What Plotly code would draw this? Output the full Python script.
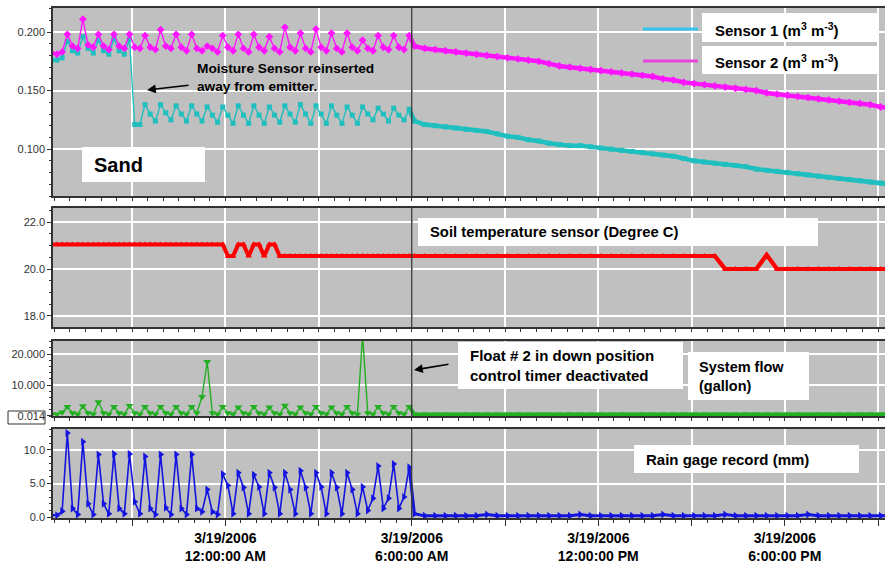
import plotly.graph_objects as go
import pandas as pd

# ---------------- data ----------------
# readings every 10 min before 6:00 AM, every 20 min after
t_pre = pd.date_range("2006-03-18 18:25", "2006-03-19 05:55", freq="10min")
t_post = pd.date_range("2006-03-19 06:05", "2006-03-19 21:25", freq="20min")

sensor1_pre = [0.176, 0.176, 0.178,
               0.192, 0.184, 0.182, 0.196, 0.186, 0.182, 0.193, 0.184, 0.181,
               0.194, 0.184, 0.181, 0.194, 0.121, 0.121, 0.138, 0.130, 0.124,
               0.138, 0.131, 0.125, 0.137, 0.130, 0.124, 0.137, 0.130, 0.124,
               0.136, 0.129, 0.123, 0.136, 0.129, 0.122, 0.137, 0.129, 0.122,
               0.137, 0.129, 0.122, 0.136, 0.129, 0.123, 0.137, 0.130, 0.123,
               0.138, 0.130, 0.122, 0.137, 0.130, 0.122, 0.137, 0.129, 0.122,
               0.136, 0.129, 0.122, 0.136, 0.130, 0.125, 0.135, 0.130, 0.124,
               0.135, 0.129, 0.125, 0.134]
sensor1_post = [0.124, 0.121, 0.120, 0.119, 0.118, 0.117, 0.116, 0.115, 0.113, 0.111,
                0.110, 0.108, 0.107, 0.105, 0.104, 0.103, 0.103, 0.102, 0.101, 0.100,
                0.099, 0.098, 0.097, 0.096, 0.095, 0.094, 0.092, 0.090, 0.089, 0.088,
                0.087, 0.086, 0.085, 0.083, 0.082, 0.081, 0.080, 0.079, 0.078, 0.077,
                0.076, 0.075, 0.074, 0.073, 0.072, 0.071, 0.070]

sensor2_pre = [0.182, 0.181, 0.183,
               0.198, 0.188, 0.186, 0.211, 0.189, 0.187, 0.198, 0.188, 0.185,
               0.198, 0.188, 0.186, 0.198, 0.187, 0.186, 0.197, 0.187, 0.185,
               0.202, 0.188, 0.186, 0.198, 0.187, 0.184, 0.198, 0.186, 0.184,
               0.188, 0.186, 0.183, 0.197, 0.187, 0.184, 0.198, 0.186, 0.183,
               0.198, 0.187, 0.184, 0.196, 0.186, 0.183, 0.204, 0.187, 0.184,
               0.199, 0.186, 0.183, 0.2025, 0.187, 0.184, 0.199, 0.186, 0.183,
               0.199, 0.187, 0.184, 0.193, 0.186, 0.184, 0.197, 0.187, 0.185,
               0.197, 0.187, 0.185, 0.197]
sensor2_post = [0.188, 0.186, 0.185, 0.184, 0.183, 0.182, 0.181, 0.180, 0.179, 0.178,
                0.177, 0.176, 0.175, 0.173, 0.171, 0.170, 0.169, 0.168, 0.167, 0.166,
                0.165, 0.164, 0.163, 0.162, 0.160, 0.159, 0.157, 0.156, 0.155, 0.154,
                0.153, 0.152, 0.151, 0.150, 0.148, 0.147, 0.146, 0.145, 0.144, 0.143,
                0.142, 0.141, 0.140, 0.139, 0.138, 0.136, 0.135]

temp_pre = [21.05, 21.05, 21.05, 21.05, 21.05, 21.05, 21.05, 21.05, 21.05, 21.05,
            21.05, 21.05, 21.05, 21.05, 21.05, 21.05, 21.05, 21.05, 21.05, 21.05,
            21.05, 21.05, 21.05, 21.05, 21.05, 21.05, 21.05, 21.05, 21.05, 21.05,
            21.05, 21.05, 21.05, 21.05,
            20.55, 20.55, 21.05, 21.05, 20.55, 21.05, 21.05, 20.55, 21.05, 21.05,
            20.55,
            20.55, 20.55, 20.55, 20.55, 20.55, 20.55, 20.55, 20.55, 20.55, 20.55,
            20.55, 20.55, 20.55, 20.55, 20.55, 20.55, 20.55, 20.55, 20.55, 20.55,
            20.55, 20.55, 20.55, 20.55, 20.55]
temp_post = [20.55, 20.55, 20.55, 20.55, 20.55, 20.55, 20.55, 20.55, 20.55, 20.55,
             20.55, 20.55, 20.55, 20.55, 20.55, 20.55, 20.55, 20.55, 20.55, 20.55,
             20.55, 20.55, 20.55, 20.55, 20.55, 20.55, 20.55, 20.55, 20.55, 20.55,
             20.0, 20.0, 20.0, 20.0, 20.6, 20.0, 20.0, 20.0, 20.0, 20.0,
             20.0, 20.0, 20.0, 20.0, 20.0, 20.0, 20.0]

flow_pre = [0.6, 0.6, 1.2,
            3.0, 1.0, 0.6, 3.2, 1.0, 0.6, 4.5, 1.0, 0.6, 3.0, 1.0, 0.6,
            3.3, 1.0, 0.6, 3.0, 1.0, 0.6, 3.0, 1.0, 0.6, 3.0, 1.0, 0.6,
            3.0, 1.0, 6.2, 17.5, 1.0, 0.6, 3.0, 1.0, 0.6, 2.8, 1.0, 0.6,
            3.0, 1.0, 0.6, 2.8, 1.0, 0.6, 3.4, 1.0, 0.6, 2.8, 1.0, 0.6,
            3.0, 1.0, 0.6, 2.8, 1.0, 0.6, 3.0, 1.0, 0.6, 26.0, 1.0, 0.6,
            3.0, 1.0, 0.6, 3.0, 1.0, 0.6, 3.0]
flow_post = [0.6, 0.6, 0.6, 0.6, 0.6, 0.6, 0.6, 0.6, 0.6, 0.6,
             0.6, 0.6, 0.6, 0.6, 0.6, 0.6, 0.6, 0.6, 0.6, 0.6,
             0.6, 0.6, 0.6, 0.6, 0.6, 0.6, 0.6, 0.6, 0.6, 0.6,
             0.6, 0.6, 0.6, 0.6, 0.6, 0.6, 0.6, 0.6, 0.6, 0.6,
             0.6, 0.6, 0.6, 0.6, 0.6, 0.6, 0.6]

rain_pre = [0.3, 0.3, 0.9,
            12.5, 1.3, 0.4, 11.2, 2.0, 0.4, 9.3, 2.0, 0.5, 9.4, 1.3, 0.5,
            9.4, 2.3, 0.5, 9.0, 1.3, 0.4, 9.3, 1.4, 0.4, 9.3, 1.3, 0.4,
            9.3, 1.3, 0.8, 4.1, 0.8, 0.4, 6.4, 4.7, 0.5, 6.6, 4.4, 0.5,
            6.3, 4.5, 0.5, 6.6, 4.4, 0.5, 6.6, 4.1, 0.5, 6.9, 4.4, 0.5,
            6.6, 4.5, 0.5, 6.6, 4.4, 0.5, 6.6, 4.1, 0.5, 4.5, 1.0, 2.8,
            7.6, 1.3, 2.8, 7.9, 1.3, 3.0, 7.4]
rain_post = [0.5, 0.2, 0.2, 0.2, 0.2, 0.2, 0.2, 0.4, 0.2, 0.2,
             0.2, 0.2, 0.2, 0.2, 0.2, 0.2, 0.4, 0.2, 0.2, 0.2,
             0.2, 0.2, 0.2, 0.2, 0.4, 0.2, 0.2, 0.2, 0.2, 0.2,
             0.4, 0.2, 0.2, 0.2, 0.2, 0.2, 0.2, 0.2, 0.4, 0.2,
             0.2, 0.2, 0.2, 0.2, 0.2, 0.2, 0.2]

x_major = ["2006-03-18 21:00", "2006-03-19 00:00", "2006-03-19 03:00",
           "2006-03-19 06:00", "2006-03-19 09:00", "2006-03-19 12:00",
           "2006-03-19 15:00", "2006-03-19 18:00", "2006-03-19 21:00"]
x_labels = ["", "3/19/2006<br>12:00:00 AM", "", "3/19/2006<br>6:00:00 AM", "",
            "3/19/2006<br>12:00:00 PM", "", "3/19/2006<br>6:00:00 PM", ""]
event_time = "2006-03-19 06:00"

# ---------------- figure ----------------
W, H = 885, 564
L = 53
FONT = "Liberation Sans, Arial, sans-serif"
t_all = list(t_pre) + list(t_post)
t_join = [t_pre[-1]] + list(t_post)

def px(v):
    return (v - L) / (W - L)

def py(v):
    return 1 - v / H

fig = go.Figure()

# (pre, post, colour, symbol, marker size, main line width, post band width, axes)
series = [
    (sensor1_pre, sensor1_post, "#1fbfbf", "square", 5, 1.4, 4.5, "x", "y"),
    (sensor2_pre, sensor2_post, "#ff14ff", "diamond", 6, 1.4, 4.5, "x", "y"),
    (temp_pre, temp_post, "#ff0000", "triangle-up", 6, 4, 4, "x2", "y2"),
    (flow_pre, flow_post, "#22b022", "triangle-down", 7, 1.4, 3.5, "x3", "y3"),
    (rain_pre, rain_post, "#1414e0", "triangle-right", 7, 1.6, 3, "x4", "y4"),
]
for pre, post, col, sym, ms, lw, bw, xa, ya in series:
    fig.add_trace(go.Scatter(x=t_join, y=[pre[-1]] + post, mode="lines",
                             line=dict(color=col, width=bw), xaxis=xa, yaxis=ya,
                             showlegend=False, hoverinfo="skip"))
    fig.add_trace(go.Scatter(x=t_all, y=pre + post, mode="lines+markers",
                             line=dict(color=col, width=lw),
                             marker=dict(symbol=sym, size=ms, color=col),
                             xaxis=xa, yaxis=ya, showlegend=False))

X0, X1 = "2006-03-18 18:27:20", "2006-03-19 21:13:30"
domains = [(8, 196), (208, 327), (341, 416), (429, 518)]
yspecs = [
    dict(range=[0.06, 0.2205], tickvals=[0.1, 0.15, 0.2], ticktext=["0.100", "0.150", "0.200"], md=0.01),
    dict(range=[17.53, 22.6], tickvals=[18, 20, 22], ticktext=["18.0", "20.0", "22.0"], md=0.5),
    dict(range=[0, 24.2], tickvals=[0.014, 10, 20], ticktext=["0.014", "10.000", "20.000"], md=2),
    dict(range=[-0.12, 13.1], tickvals=[0, 5, 10], ticktext=["0.0", "5.0", "10.0"], md=1),
]
layout = dict(width=W, height=H, margin=dict(l=L, r=0, t=0, b=0),
              paper_bgcolor="white", plot_bgcolor="#c0c0c0",
              font=dict(family=FONT, color="black"), showlegend=False)
for i, ((top, bot), ys) in enumerate(zip(domains, yspecs)):
    n = "" if i == 0 else str(i + 1)
    last = i == 3
    layout["xaxis" + n] = dict(
        type="date", range=[X0, X1], domain=[0, 1], anchor="y" + n,
        tickmode="array", tickvals=x_major,
        ticktext=x_labels if last else [""] * len(x_major),
        showticklabels=last, ticks="outside", ticklen=6, tickwidth=1, tickcolor="#333",
        tickfont=dict(family=FONT, size=14, color="black", weight="bold"),
        showgrid=True, gridcolor="white", gridwidth=1.5,
        showline=True, linecolor="#333", linewidth=1.5, mirror=True,
        zeroline=False, automargin=False,
        minor=dict(dtick=1800000, tick0="2006-03-18 18:30", ticks="outside",
                   ticklen=3, tickcolor="#333", showgrid=False),
    )
    layout["yaxis" + n] = dict(
        domain=[py(bot), py(top)], anchor="x" + n, range=ys["range"],
        tickmode="array", tickvals=ys["tickvals"], ticktext=ys["ticktext"],
        ticks="outside", ticklen=4, tickcolor="#333",
        tickfont=dict(family=FONT, size=11, color="#333"),
        showgrid=True, gridcolor="white", gridwidth=1.5,
        showline=True, linecolor="#333", linewidth=1.5, mirror=True,
        zeroline=False, automargin=False,
        minor=dict(dtick=ys["md"], tick0=0, ticks="outside", ticklen=2,
                   tickcolor="#333", showgrid=False),
    )
fig.update_layout(**layout)

shapes = []
for i in range(4):
    n = "" if i == 0 else str(i + 1)
    shapes.append(dict(type="line", xref="x" + n, yref=("y" + n + " domain"),
                       x0=event_time, x1=event_time, y0=0, y1=1,
                       line=dict(color="#3a3a3a", width=1.5), layer="above"))

def box(x0, y0, x1, y1):
    shapes.append(dict(type="rect", xref="paper", yref="paper",
                       x0=px(x0), x1=px(x1), y0=py(y1), y1=py(y0),
                       fillcolor="white", line=dict(width=0), layer="above"))

box(82, 147, 205, 182)      # Sand
box(702, 13, 878, 42)       # legend row 1
box(702, 46, 878, 74)       # legend row 2
box(418, 218, 818, 246)     # soil temp
box(458, 342, 683, 389)     # float
box(688, 352, 809, 400)     # system flow
box(634, 445, 859, 473)     # rain
shapes.append(dict(type="rect", xref="paper", yref="paper",
                   x0=px(8), x1=px(45), y0=py(424), y1=py(411),
                   fillcolor="white", line=dict(color="#333", width=1), layer="below"))
# legend line samples
shapes.append(dict(type="line", xref="paper", yref="paper", x0=px(643), x1=px(698),
                   y0=py(29), y1=py(29), line=dict(color="#33c3ee", width=3)))
shapes.append(dict(type="line", xref="paper", yref="paper", x0=px(643), x1=px(698),
                   y0=py(61), y1=py(61), line=dict(color="#e445dc", width=3)))
fig.update_layout(shapes=shapes)

def text(x, y, s, size=14, bold=True):
    fig.add_annotation(xref="paper", yref="paper", x=px(x), y=py(y), text=s,
                       showarrow=False, xanchor="left", yanchor="middle", align="left",
                       font=dict(family=FONT, size=size, color="black",
                                 weight="bold" if bold else "normal"))

text(92, 165, "Sand", size=20)
text(713, 29, "Sensor 1 (m<sup>3</sup> m<sup>-3</sup>)", size=15)
text(713, 61, "Sensor 2 (m<sup>3</sup> m<sup>-3</sup>)", size=15)
text(195, 77, "Moisture Sensor reinserted<br>away from emitter.", size=13.7)
text(428, 232, "Soil temperature sensor (Degree C)", size=14.8)
text(468, 365, "Float # 2 in down position<br>control timer deactivated", size=15)
text(697, 376, "System flow<br>(gallon)", size=14.5)
text(644, 459, "Rain gage record (mm)", size=15)

for hx, hy, tx, ty in [(147, 90, 190, 85), (414, 370, 450, 364)]:
    fig.add_annotation(xref="paper", yref="paper", x=px(hx), y=py(hy), ax=tx - hx, ay=ty - hy,
                       text="", showarrow=True, arrowhead=2, arrowsize=1.1,
                       arrowwidth=1.6, arrowcolor="black")

fig.write_html("out.html")
